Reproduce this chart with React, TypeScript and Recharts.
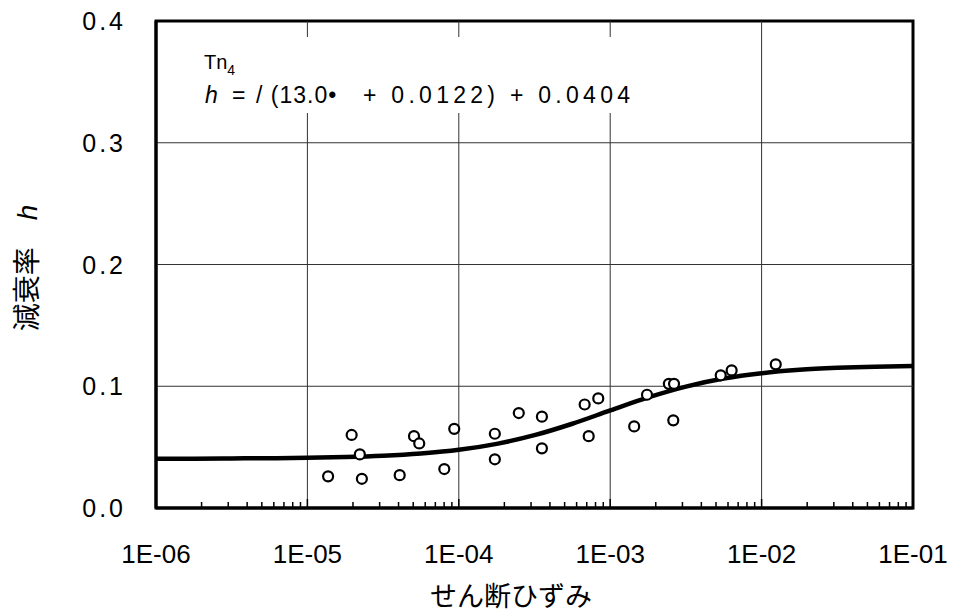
import {
  ComposedChart,
  Line,
  Scatter,
  XAxis,
  YAxis,
  ReferenceLine,
  ReferenceArea,
} from 'recharts';

// fitted curve
const curveStrain = [
  1e-6, 1.78e-6, 3.16e-6, 5.62e-6, 1e-5, 1.78e-5, 3.16e-5, 5.62e-5, 1e-4, 1.78e-4, 3.16e-4,
  5.62e-4, 1e-3, 1.78e-3, 3.16e-3, 5.62e-3, 1e-2, 1.78e-2, 3.16e-2, 5.62e-2, 1e-1,
];
const curveDamping = [
  0.0405, 0.0405, 0.0407, 0.0409, 0.0412, 0.0418, 0.0429, 0.0448, 0.0478, 0.0527, 0.0598,
  0.0692, 0.0801, 0.0908, 0.0997, 0.1063, 0.1107, 0.1135, 0.1151, 0.1161, 0.1166,
];

// measured points
const obsStrain = [
  1.37e-5, 1.96e-5, 2.22e-5, 2.29e-5, 4.07e-5, 5.06e-5, 5.48e-5, 8.02e-5, 9.33e-5, 1.73e-4,
  1.73e-4, 2.49e-4, 3.54e-4, 3.54e-4, 6.78e-4, 7.21e-4, 8.34e-4, 1.44e-3, 1.75e-3, 2.44e-3,
  2.64e-3, 2.61e-3, 5.37e-3, 6.34e-3, 1.24e-2,
];
const obsDamping = [
  0.026, 0.06, 0.044, 0.024, 0.027, 0.059, 0.053, 0.032, 0.065, 0.061, 0.04, 0.078, 0.075,
  0.049, 0.085, 0.059, 0.09, 0.067, 0.093, 0.102, 0.102, 0.072, 0.109, 0.113, 0.118,
];

const xDecades = [1e-6, 1e-5, 1e-4, 1e-3, 1e-2, 1e-1];
const xTickLabels = ['1E-06', '1E-05', '1E-04', '1E-03', '1E-02', '1E-01'];
const minorSteps = [2, 3, 4, 5, 6, 7, 8, 9];
const yTicks = [0, 0.1, 0.2, 0.3, 0.4];
const yTickLabels = ['0.0', '0.1', '0.2', '0.3', '0.4'];

const NUM_FONT = '"Liberation Sans", Arial, sans-serif';
const JP_FONT = '"Noto Sans CJK JP", sans-serif';

const curveData = curveStrain.map((x, i) => ({ x, h: curveDamping[i] }));
const obsData = obsStrain.map((x, i) => ({ x, h: obsDamping[i] }));

// 主目盛 + 副目盛 (2..9)
const xTicks = xDecades
  .slice(0, -1)
  .flatMap((d) => [d, ...minorSteps.map((m) => d * m)])
  .concat([xDecades[xDecades.length - 1]]);

function StrainTick(props: any) {
  const { x, y, payload } = props;
  const v = payload.value;
  const i = xDecades.findIndex((d) => Math.abs(v - d) / d < 1e-6);
  const major = i >= 0;
  return (
    <g>
      <line x1={x} x2={x} y1={y} y2={y - (major ? 9 : 6)} stroke="#000" strokeWidth={1.5} />
      {major && (
        <text x={x} y={y + 55} textAnchor="middle" fontSize={26} fontFamily={NUM_FONT} fill="#000">
          {xTickLabels[i]}
        </text>
      )}
    </g>
  );
}

function DampingTick(props: any) {
  const { x, y, payload } = props;
  const i = yTicks.findIndex((t) => Math.abs(t - payload.value) < 1e-9);
  return (
    <text
      x={x}
      y={y + 9}
      textAnchor="end"
      fontSize={25}
      letterSpacing={3}
      fontFamily={NUM_FONT}
      fill="#000"
    >
      {yTickLabels[i]}
    </text>
  );
}

function Ring(props: any) {
  const { cx, cy } = props;
  return <circle cx={cx} cy={cy} r={5} fill="#fff" stroke="#000" strokeWidth={2.2} />;
}

export default function App() {
  return (
    <div style={{ position: 'absolute', left: 0, top: 0, width: 956, height: 616, background: '#fff' }}>
      <ComposedChart width={956} height={616} margin={{ top: 21, right: 43, bottom: 0, left: 0 }}>
        <XAxis
          type="number"
          dataKey="x"
          scale="log"
          domain={[1e-6, 0.1]}
          ticks={xTicks}
          interval={0}
          tick={<StrainTick />}
          tickLine={false}
          tickSize={0}
          tickMargin={0}
          height={108}
          axisLine={{ stroke: '#000', strokeWidth: 3 }}
        />
        <YAxis
          type="number"
          domain={[0, 0.4]}
          ticks={yTicks}
          interval={0}
          tick={<DampingTick />}
          tickLine={false}
          tickSize={0}
          tickMargin={30}
          width={156}
          axisLine={{ stroke: '#000', strokeWidth: 3 }}
        />
        {xDecades.slice(1, -1).map((d) => (
          <ReferenceLine key={`vx-${d}`} x={d} stroke="#333" strokeWidth={1} />
        ))}
        {yTicks.slice(1, -1).map((t) => (
          <ReferenceLine key={`hy-${t}`} y={t} stroke="#333" strokeWidth={1} />
        ))}
        <ReferenceArea
          x1={1e-6}
          x2={0.1}
          y1={0}
          y2={0.4}
          fill="none"
          fillOpacity={0}
          stroke="#000"
          strokeWidth={3}
        />
        <Line
          data={curveData}
          dataKey="h"
          type="monotone"
          stroke="#000"
          strokeWidth={4.5}
          dot={false}
          isAnimationActive={false}
        />
        <Scatter data={obsData} dataKey="h" shape={<Ring />} isAnimationActive={false} />
      </ComposedChart>

      {/* 注記 (白地ボックス) と軸タイトル */}
      <svg
        width={956}
        height={616}
        style={{ position: 'absolute', left: 0, top: 0, pointerEvents: 'none' }}
      >
        <rect x={190} y={37} width={460} height={76} fill="#fff" />
        <text x={204} y={69} fontSize={20} fontFamily={NUM_FONT} fill="#000">
          Tn
          <tspan fontSize={14} dy={6}>
            4
          </tspan>
        </text>
        <g fontSize={23} fontFamily={NUM_FONT} fill="#000">
          <text x={205} y={103} fontStyle="italic">
            h
          </text>
          <text x={232} y={103}>
            =
          </text>
          <text x={256} y={103} letterSpacing={1}>
            / (13.0•
          </text>
          <text x={363} y={103} textLength={267} lengthAdjust="spacing">
            + 0.0122) + 0.0404
          </text>
        </g>
        <text x={511} y={606} textAnchor="middle" fontSize={27} fontFamily={JP_FONT} fill="#000">
          せん断ひずみ
        </text>
        <text
          x={37}
          y={268}
          transform="rotate(-90 37 268)"
          textAnchor="middle"
          fontSize={28}
          fontFamily={JP_FONT}
          fill="#000"
        >
          減衰率
          <tspan dx={27} fontStyle="italic" fontFamily={NUM_FONT}>
            h
          </tspan>
        </text>
      </svg>
    </div>
  );
}
